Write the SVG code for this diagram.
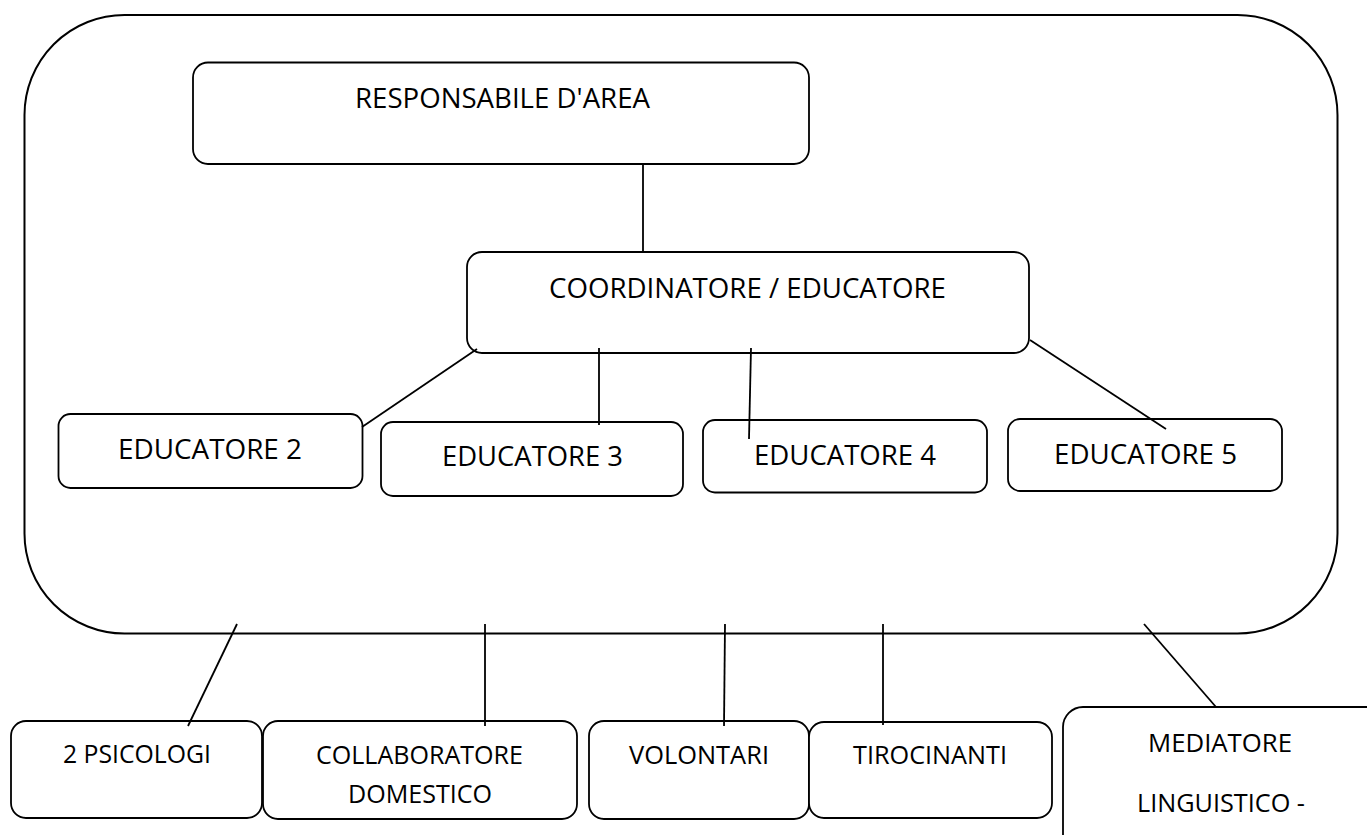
<svg xmlns="http://www.w3.org/2000/svg" width="1367" height="835" viewBox="0 0 1367 835">
<style>
.box{fill:#fff;stroke:#000;stroke-width:1.8}
.frame{fill:#fff;stroke:#000;stroke-width:2}
.t{font-family:"Open Sans",Lato,"Liberation Sans",sans-serif;fill:#000}
.l{font-size:28px}
.s{font-size:25px}
#connectors line{stroke:#000;stroke-width:1.8}
</style>
<rect width="1367" height="835" fill="#fff"/>
<g id="frame"><rect class="frame" x="24.5" y="15" width="1313" height="618.5" rx="100" ry="100"/></g>
<g id="responsabile"><rect class="box" x="193" y="62.5" width="616" height="101.5" rx="15"/><text class="t l" x="355" y="108" textLength="295" lengthAdjust="spacingAndGlyphs">RESPONSABILE D'AREA</text></g>
<g id="coordinatore"><rect class="box" x="467" y="252" width="562" height="101" rx="15"/><text class="t l" x="549" y="298" textLength="397" lengthAdjust="spacingAndGlyphs">COORDINATORE / EDUCATORE</text></g>
<g id="educatore2"><rect class="box" x="58.5" y="414" width="304" height="74" rx="12"/><text class="t l" x="118" y="459" textLength="184" lengthAdjust="spacingAndGlyphs">EDUCATORE 2</text></g>
<g id="educatore3"><rect class="box" x="381" y="422" width="302" height="74" rx="12"/><text class="t l" x="442" y="466" textLength="181" lengthAdjust="spacingAndGlyphs">EDUCATORE 3</text></g>
<g id="educatore4"><rect class="box" x="703" y="420" width="284" height="72.5" rx="12"/><text class="t l" x="754" y="465" textLength="182" lengthAdjust="spacingAndGlyphs">EDUCATORE 4</text></g>
<g id="educatore5"><rect class="box" x="1008" y="419" width="274" height="72" rx="12"/><text class="t l" x="1054" y="464" textLength="183" lengthAdjust="spacingAndGlyphs">EDUCATORE 5</text></g>
<g id="psicologi"><rect class="box" x="11" y="721" width="251" height="97" rx="15"/><text class="t s" x="63" y="763" textLength="148" lengthAdjust="spacingAndGlyphs">2 PSICOLOGI</text></g>
<g id="collaboratore"><rect class="box" x="263" y="721" width="314" height="98" rx="15"/><text class="t s" x="316" y="764" textLength="207" lengthAdjust="spacingAndGlyphs">COLLABORATORE</text><text class="t s" x="348" y="803" textLength="144" lengthAdjust="spacingAndGlyphs">DOMESTICO</text></g>
<g id="volontari"><rect class="box" x="589" y="721" width="220" height="98" rx="15"/><text class="t s" x="629" y="764" textLength="140" lengthAdjust="spacingAndGlyphs">VOLONTARI</text></g>
<g id="tirocinanti"><rect class="box" x="809" y="722" width="243" height="96" rx="15"/><text class="t s" x="853" y="764" textLength="154" lengthAdjust="spacingAndGlyphs">TIROCINANTI</text></g>
<g id="mediatore"><rect class="box" x="1063" y="707" width="330" height="150" rx="20"/><text class="t s" x="1148" y="752" textLength="144" lengthAdjust="spacingAndGlyphs">MEDIATORE</text><text class="t s" x="1137" y="812" textLength="168" lengthAdjust="spacingAndGlyphs">LINGUISTICO -</text></g>
<g id="connectors">
<line x1="643" y1="164" x2="643" y2="252"/>
<line x1="477" y1="349" x2="362" y2="427"/>
<line x1="599" y1="348" x2="599" y2="425"/>
<line x1="751" y1="348" x2="749" y2="439"/>
<line x1="1030" y1="340" x2="1166" y2="429"/>
<line x1="237" y1="624" x2="188" y2="726"/>
<line x1="485" y1="624" x2="485" y2="726"/>
<line x1="725" y1="624" x2="724" y2="726"/>
<line x1="883" y1="624" x2="883" y2="725"/>
<line x1="1144" y1="624" x2="1216" y2="707"/>
</g>
</svg>
